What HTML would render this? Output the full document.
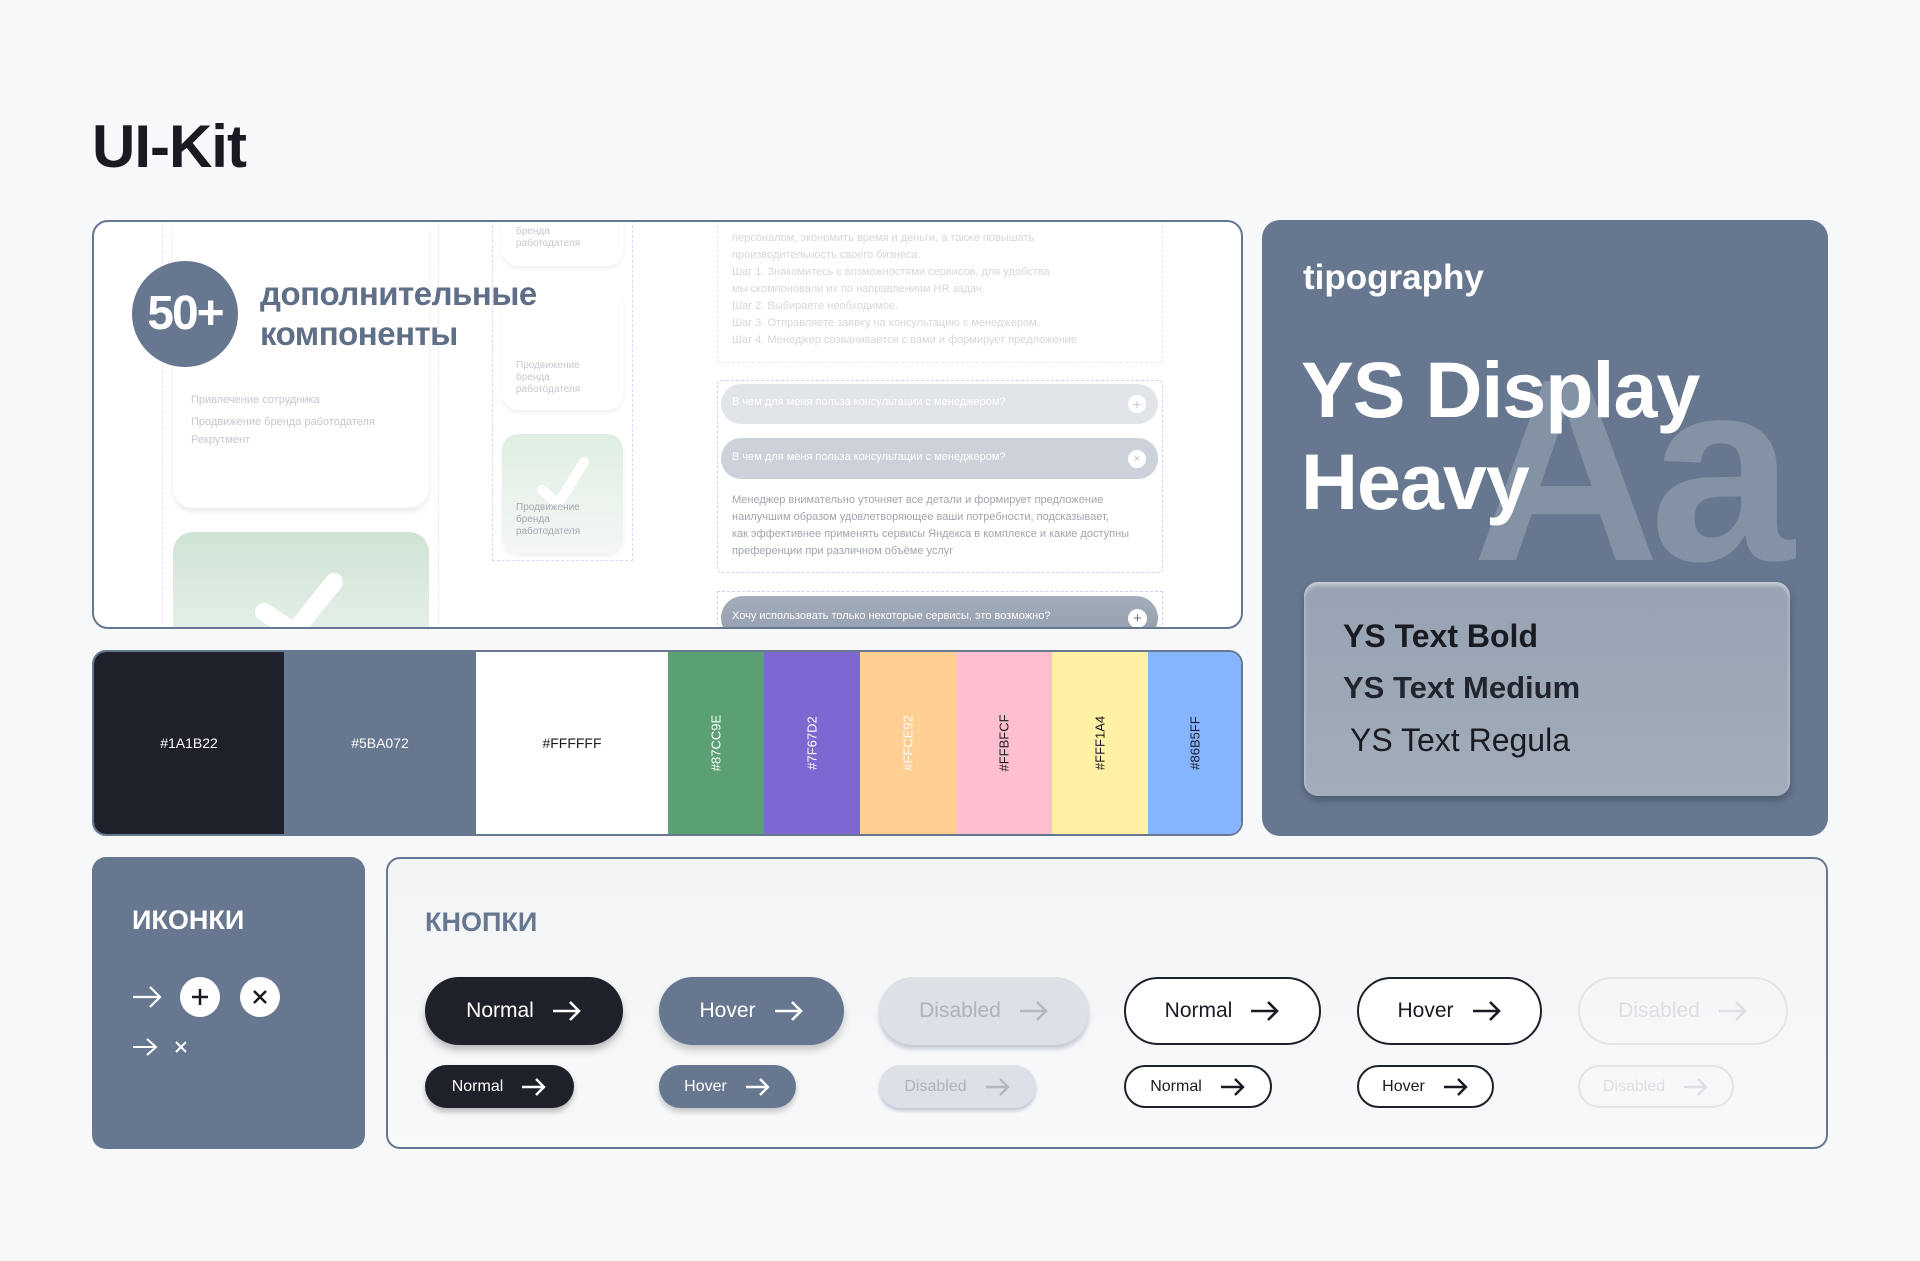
<!DOCTYPE html>
<html><head><meta charset="utf-8"><style>
*{margin:0;padding:0;box-sizing:border-box}
body{width:1920px;height:1261px;background:#f7f8fa;position:relative;overflow:hidden;font-family:"Liberation Sans","DejaVu Sans",sans-serif}
.a{position:absolute}
.t{position:absolute;white-space:nowrap}
.btn{position:absolute;border-radius:40px;display:flex;align-items:center;justify-content:center;gap:18px}
.faint{color:#c4c8cf;font-size:11px;line-height:17px}
</style></head><body>
<div class="t" style="left:92px;top:112px;font-size:60px;font-weight:bold;color:#1a1b22;letter-spacing:-1px">UI-Kit</div>

<!-- top card -->
<div class="a" style="left:92px;top:220px;width:1151px;height:409px;border:2px solid #66778f;border-radius:16px;background:#fff;overflow:hidden">
  <div class="a" style="left:68px;top:-2px;width:277px;height:420px;border-left:1px dashed #ece0fb;border-right:1px dashed #ece0fb"></div>
  <div class="a" style="left:79px;top:-10px;width:256px;height:296px;background:#fff;border-radius:20px;box-shadow:0 4px 6px rgba(0,0,0,.08)"></div>
  <div class="t faint" style="left:97px;top:170px">Привлечение сотрудника</div>
  <div class="t faint" style="left:97px;top:192px">Продвижение бренда работодателя</div>
  <div class="t faint" style="left:97px;top:210px">Рекрутмент</div>
  <div class="a" style="left:79px;top:310px;width:256px;height:120px;border-radius:20px;background:linear-gradient(#cfe3d4,#e8f2ea)"></div>
  <svg class="a" style="left:160px;top:350px" width="100" height="60"><path d="M10 40 L40 60 M40 60 L80 10" stroke="#fff" stroke-width="18" fill="none" stroke-linecap="round"/></svg>
  <div class="a" style="left:398px;top:-2px;width:141px;height:341px;border:1px dashed #e2cffb;border-top:none"></div>
  <div class="a" style="left:408px;top:-10px;width:121px;height:54px;background:#fff;border-radius:16px;box-shadow:0 3px 5px rgba(0,0,0,.06)"></div>
  <div class="t faint" style="left:422px;top:4px;font-size:10px;line-height:12px">бренда<br>работодателя</div>
  <div class="a" style="left:408px;top:68px;width:121px;height:120px;background:#fff;border-radius:16px;box-shadow:0 3px 5px rgba(0,0,0,.06)"></div>
  <div class="t faint" style="left:422px;top:138px;font-size:10px;line-height:12px">Продвижение<br>бренда<br>работодателя</div>
  <div class="a" style="left:408px;top:212px;width:121px;height:119px;border-radius:16px;background:linear-gradient(#dfeee2,#f4f7f5);box-shadow:0 3px 5px rgba(0,0,0,.06)"></div>
  <svg class="a" style="left:440px;top:232px" width="60" height="60"><path d="M8 36 L24 50 L50 8" stroke="#fff" stroke-width="10" fill="none" stroke-linecap="round"/></svg>
  <div class="t" style="left:422px;top:280px;font-size:10px;line-height:12px;color:#a2a8b2">Продвижение<br>бренда<br>работодателя</div>
  <div class="a" style="left:623px;top:-2px;width:446px;height:143px;border:1px dashed #eee6fb;border-top:none"></div>
  <div class="t faint" style="left:638px;top:8px;line-height:17px;color:#d4d7dc">персоналом, экономить время и деньги, а также повышать<br>производительность своего бизнеса.<br>Шаг 1. Знакомитесь с возможностями сервисов, для удобства<br>мы скомпоновали их по направлениям HR задач.<br>Шаг 2. Выбираете необходимое.<br>Шаг 3. Отправляете заявку на консультацию с менеджером.<br>Шаг 4. Менеджер созванивается с вами и формирует предложение</div>
  <div class="a" style="left:623px;top:158px;width:446px;height:193px;border:1px dashed #dcc8fb;border-radius:4px"></div>
  <div class="a" style="left:627px;top:162px;width:437px;height:40px;border-radius:20px;background:#e1e4e9"></div>
  <div class="t" style="left:638px;top:174px;font-size:11px;color:#fff">В чем для меня польза консультации с менеджером?</div>
  <div class="a" style="left:1034px;top:173px;width:18px;height:18px;border-radius:50%;background:#fff;color:#c6cbd2;font-size:14px;line-height:18px;text-align:center">+</div>
  <div class="a" style="left:627px;top:216px;width:437px;height:41px;border-radius:20px;background:#cdd2da"></div>
  <div class="t" style="left:638px;top:229px;font-size:11px;color:#fff">В чем для меня польза консультации с менеджером?</div>
  <div class="a" style="left:1034px;top:228px;width:18px;height:18px;border-radius:50%;background:#fff;color:#b6bcc5;font-size:11px;line-height:18px;text-align:center">×</div>
  <div class="t" style="left:638px;top:270px;font-size:11px;line-height:17px;color:#a0a5ad">Менеджер внимательно уточняет все детали и формирует предложение<br>наилучшим образом удовлетворяющее ваши потребности, подсказывает,<br>как эффективнее применять сервисы Яндекса в комплексе и какие доступны<br>преференции при различном объёме услуг</div>
  <div class="a" style="left:623px;top:369px;width:446px;height:60px;border:1px dashed #dcc8fb"></div>
  <div class="a" style="left:627px;top:374px;width:437px;height:44px;border-radius:22px;background:linear-gradient(#a4adba,#939dac)"></div>
  <div class="t" style="left:638px;top:388px;font-size:11px;color:#fff">Хочу использовать только некоторые сервисы, это возможно?</div>
  <div class="a" style="left:1034px;top:387px;width:19px;height:19px;border-radius:50%;background:#fff;color:#6b7585;font-size:15px;line-height:19px;text-align:center">+</div>
  <div class="a" style="left:38px;top:39px;width:106px;height:106px;border-radius:50%;background:#66778f"></div>
  <div class="t" style="left:43px;top:64px;width:96px;text-align:center;font-size:48px;font-weight:bold;color:#fff;letter-spacing:-2px">50+</div>
  <div class="t" style="left:166px;top:52px;font-size:33px;font-weight:bold;color:#5f6f87;line-height:40px;letter-spacing:-0.5px">дополнительные<br>компоненты</div>
</div>

<!-- palette -->
<div class="a" style="left:92px;top:650px;width:1151px;height:186px;border:2px solid #66778f;border-radius:14px;overflow:hidden;display:flex">
  <div style="width:190px;background:#1e2129;color:#fff;display:flex;align-items:center;justify-content:center;font-size:14px">#1A1B22</div>
  <div style="width:192px;background:#66778f;color:#fff;display:flex;align-items:center;justify-content:center;font-size:14px">#5BA072</div>
  <div style="width:192px;background:#fff;color:#1a1b22;display:flex;align-items:center;justify-content:center;font-size:14px">#FFFFFF</div>
  <div style="width:96px;background:#5ba072;position:relative"><div class="t" style="left:50%;top:50%;transform:translate(-50%,-50%) rotate(-90deg);color:#fff;font-size:13px">#87CC9E</div></div>
  <div style="width:96px;background:#7f67d2;position:relative"><div class="t" style="left:50%;top:50%;transform:translate(-50%,-50%) rotate(-90deg);color:#fff;font-size:13px">#7F67D2</div></div>
  <div style="width:96px;background:#ffce92;position:relative"><div class="t" style="left:50%;top:50%;transform:translate(-50%,-50%) rotate(-90deg);color:#fff;font-size:13px">#FFCE92</div></div>
  <div style="width:96px;background:#ffbfcf;position:relative"><div class="t" style="left:50%;top:50%;transform:translate(-50%,-50%) rotate(-90deg);color:#1a1b22;font-size:13px">#FFBFCF</div></div>
  <div style="width:96px;background:#fff1a4;position:relative"><div class="t" style="left:50%;top:50%;transform:translate(-50%,-50%) rotate(-90deg);color:#1a1b22;font-size:13px">#FFF1A4</div></div>
  <div style="flex:1;background:#86b5ff;position:relative"><div class="t" style="left:50%;top:50%;transform:translate(-50%,-50%) rotate(-90deg);color:#1a1b22;font-size:13px">#86B5FF</div></div>
</div>

<!-- typography -->
<div class="a" style="left:1262px;top:220px;width:566px;height:616px;background:#66778f;border-radius:18px;overflow:hidden">
  <div class="t" style="left:210px;top:121px;font-size:260px;font-weight:bold;color:rgba(255,255,255,.2);letter-spacing:-10px;line-height:260px">Aa</div>
  <div class="t" style="left:41px;top:38px;font-size:35px;font-weight:bold;color:#fff">tipography</div>
  <div class="t" style="left:39px;top:124px;font-size:79px;font-weight:bold;color:#fff;line-height:92px;letter-spacing:-1px">YS Display<br>Heavy</div>
  <div class="a" style="left:42px;top:362px;width:486px;height:214px;border-radius:14px;background:linear-gradient(#97a3b3,#a2acba);box-shadow:inset 0 3px 4px rgba(255,255,255,.5),0 4px 8px rgba(0,0,0,.25)"></div>
  <div class="t" style="left:81px;top:398px;font-size:32px;font-weight:bold;color:#1a1b22">YS Text Bold</div>
  <div class="t" style="left:81px;top:450px;font-size:31px;font-weight:bold;color:#23252e">YS Text Medium</div>
  <div class="t" style="left:88px;top:502px;font-size:32px;color:#1a1b22">YS Text Regula</div>
</div>

<!-- icons -->
<div class="a" style="left:92px;top:857px;width:273px;height:292px;background:#66778f;border-radius:14px">
  <div class="t" style="left:40px;top:48px;font-size:27px;font-weight:bold;color:#fff">ИКОНКИ</div>
  <svg class="a" style="left:40px;top:128px" width="30" height="24" viewBox="0 0 30 24"><path d="M1 12H28M18 2L28 12L18 22" stroke="#fff" stroke-width="2.2" fill="none"/></svg>
  <div class="a" style="left:88px;top:120px;width:40px;height:40px;border-radius:50%;background:#fff"></div>
  <svg class="a" style="left:98px;top:130px" width="20" height="20"><path d="M10 2V18M2 10H18" stroke="#1a1b22" stroke-width="2.5"/></svg>
  <div class="a" style="left:148px;top:120px;width:40px;height:40px;border-radius:50%;background:#fff"></div>
  <svg class="a" style="left:160px;top:132px" width="16" height="16"><path d="M2 2L14 14M14 2L2 14" stroke="#1a1b22" stroke-width="2.5"/></svg>
  <svg class="a" style="left:40px;top:180px" width="26" height="20" viewBox="0 0 26 20"><path d="M1 10H24M15 2L24 10L15 18" stroke="#fff" stroke-width="2" fill="none"/></svg>
  <svg class="a" style="left:83px;top:184px" width="12" height="12"><path d="M1 1L11 11M11 1L1 11" stroke="#fff" stroke-width="2"/></svg>
</div>

<!-- buttons -->
<div class="a" style="left:386px;top:857px;width:1442px;height:292px;border:2px solid #66778f;border-radius:14px;background:linear-gradient(#f3f4f6,#f7f9fb)">
  <div class="t" style="left:37px;top:48px;font-size:27px;font-weight:bold;color:#66778f">КНОПКИ</div>
</div>

<div class="btn" style="left:425px;top:977px;width:198px;height:68px;background:#1e2129;color:#fff;font-size:21px;box-shadow:0 5px 8px rgba(0,0,0,.25)">Normal<svg width="30" height="24" viewBox="0 0 30 24"><path d="M1 12H27M18 3L27 12L18 21" stroke="#fff" stroke-width="2.6" fill="none"/></svg></div>
<div class="btn" style="left:659px;top:977px;width:185px;height:68px;background:#66778f;color:#fff;font-size:21px;box-shadow:0 5px 8px rgba(0,0,0,.2)">Hover<svg width="30" height="24" viewBox="0 0 30 24"><path d="M1 12H27M18 3L27 12L18 21" stroke="#fff" stroke-width="2.6" fill="none"/></svg></div>
<div class="btn" style="left:879px;top:977px;width:210px;height:68px;background:#dde0e6;color:#aeb3bb;font-size:21px;box-shadow:0 4px 4px rgba(120,130,160,.4)">Disabled<svg width="30" height="24" viewBox="0 0 30 24"><path d="M1 12H27M18 3L27 12L18 21" stroke="#b4b8be" stroke-width="2.6" fill="none"/></svg></div>
<div class="btn" style="left:1124px;top:977px;width:197px;height:68px;border:2px solid #1e2129;background:#fff;color:#1a1b22;font-size:21px">Normal<svg width="30" height="24" viewBox="0 0 30 24"><path d="M1 12H27M18 3L27 12L18 21" stroke="#1a1b22" stroke-width="2.6" fill="none"/></svg></div>
<div class="btn" style="left:1357px;top:977px;width:185px;height:68px;border:2px solid #1e2129;background:#fff;color:#1a1b22;font-size:21px">Hover<svg width="30" height="24" viewBox="0 0 30 24"><path d="M1 12H27M18 3L27 12L18 21" stroke="#1a1b22" stroke-width="2.6" fill="none"/></svg></div>
<div class="btn" style="left:1578px;top:977px;width:210px;height:68px;border:2px solid #e3e5e9;color:#dcdfe3;font-size:21px">Disabled<svg width="30" height="24" viewBox="0 0 30 24"><path d="M1 12H27M18 3L27 12L18 21" stroke="#dcdfe3" stroke-width="2.6" fill="none"/></svg></div>

<div class="btn" style="left:425px;top:1065px;width:149px;height:43px;background:#1e2129;color:#fff;font-size:16px;box-shadow:0 4px 6px rgba(0,0,0,.25)">Normal<svg width="26" height="20" viewBox="0 0 26 20"><path d="M1 10H23M15 2L23 10L15 18" stroke="#fff" stroke-width="2.4" fill="none"/></svg></div>
<div class="btn" style="left:659px;top:1065px;width:137px;height:43px;background:#66778f;color:#fff;font-size:16px;box-shadow:0 4px 6px rgba(0,0,0,.2)">Hover<svg width="26" height="20" viewBox="0 0 26 20"><path d="M1 10H23M15 2L23 10L15 18" stroke="#fff" stroke-width="2.4" fill="none"/></svg></div>
<div class="btn" style="left:879px;top:1065px;width:157px;height:43px;background:#dde0e6;color:#aeb3bb;font-size:16px;box-shadow:0 3px 3px rgba(120,130,160,.4)">Disabled<svg width="26" height="20" viewBox="0 0 26 20"><path d="M1 10H23M15 2L23 10L15 18" stroke="#b4b8be" stroke-width="2.4" fill="none"/></svg></div>
<div class="btn" style="left:1124px;top:1065px;width:148px;height:43px;border:2px solid #1e2129;background:#fff;color:#1a1b22;font-size:16px">Normal<svg width="26" height="20" viewBox="0 0 26 20"><path d="M1 10H23M15 2L23 10L15 18" stroke="#1a1b22" stroke-width="2.4" fill="none"/></svg></div>
<div class="btn" style="left:1357px;top:1065px;width:137px;height:43px;border:2px solid #1e2129;background:#fff;color:#1a1b22;font-size:16px">Hover<svg width="26" height="20" viewBox="0 0 26 20"><path d="M1 10H23M15 2L23 10L15 18" stroke="#1a1b22" stroke-width="2.4" fill="none"/></svg></div>
<div class="btn" style="left:1578px;top:1065px;width:156px;height:43px;border:2px solid #e3e5e9;color:#dcdfe3;font-size:16px">Disabled<svg width="26" height="20" viewBox="0 0 26 20"><path d="M1 10H23M15 2L23 10L15 18" stroke="#dcdfe3" stroke-width="2.4" fill="none"/></svg></div>
</body></html>
